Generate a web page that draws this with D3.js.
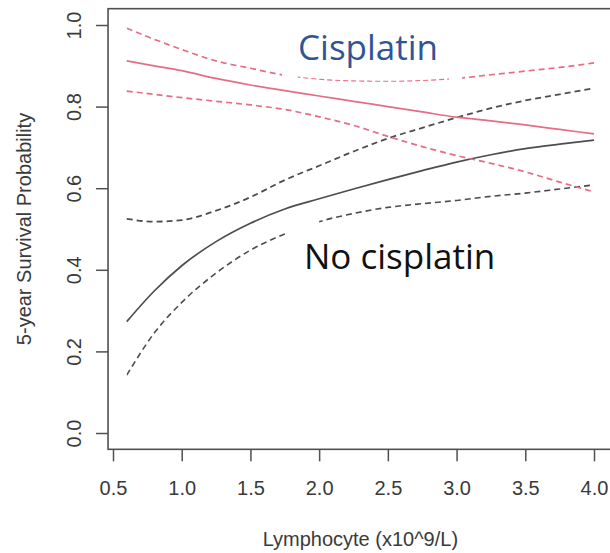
<!DOCTYPE html>
<html>
<head>
<meta charset="utf-8">
<script src="https://cdn.jsdelivr.net/npm/d3@7"></script>
<style>
  html, body { margin: 0; padding: 0; background: #ffffff; }
  svg { display: block; }
</style>
</head>
<body>
<svg id="chart" width="610" height="553"></svg>
<script>
// Lymphocyte count (x10^9/L) at which the fitted curves are evaluated
const lymph = [0.6, 0.8, 1.0, 1.25, 1.5, 1.75, 2.0, 2.25, 2.5, 2.75, 3.0, 3.25, 3.5, 3.75, 4.0];

// Cisplatin group: fitted 5-year survival and confidence band
const cisFit   = [0.912, 0.900, 0.888, 0.869, 0.853, 0.839, 0.826, 0.813, 0.800, 0.787, 0.774, 0.765, 0.755, 0.744, 0.733];
const cisUpper = [0.992, 0.965, 0.940, 0.912, 0.894, 0.877, 0.867, 0.863, 0.862, 0.864, 0.869, 0.878, 0.887, 0.896, 0.907];
const cisLower = [0.838, 0.830, 0.822, 0.813, 0.804, 0.793, 0.775, 0.754, 0.727, 0.702, 0.680, 0.661, 0.640, 0.615, 0.591];

// No-cisplatin group: fitted 5-year survival and confidence band
const noCisFit   = [0.273, 0.348, 0.410, 0.469, 0.514, 0.549, 0.574, 0.598, 0.621, 0.643, 0.664, 0.682, 0.697, 0.708, 0.718];
const noCisUpper = [0.525, 0.518, 0.522, 0.545, 0.578, 0.620, 0.655, 0.690, 0.722, 0.748, 0.773, 0.796, 0.815, 0.830, 0.845];
const noCisLower = [0.142, 0.245, 0.320, 0.392, 0.448, 0.488, 0.518, 0.538, 0.553, 0.562, 0.570, 0.580, 0.588, 0.598, 0.608];

// Stretches of the band lines hidden behind the annotation boxes (lymphocyte units)
const cisUpperHidden   = [[1.73, 1.845], [2.945, 3.04]];
const cisUpperFine     = [[1.845, 2.945]];
const noCisLowerHidden = [[1.765, 2.0]];

// Axis ticks
const xTicks = [0.5, 1.0, 1.5, 2.0, 2.5, 3.0, 3.5, 4.0];
const yTicks = [0.0, 0.2, 0.4, 0.6, 0.8, 1.0];

// Labels
const xTitle = "Lymphocyte (x10^9/L)";
const yTitle = "5-year Survival Probability";
const cisLabel = "Cisplatin";
const noCisLabel = "No cisplatin";

const RED = "#e76d83";
const GREY = "#4d4d4d";
const AXIS = "#505050";
const TEXT = "#3a3a3a";

const svg = d3.select("#chart");

const x = d3.scaleLinear().domain([0.5, 4.0]).range([113, 594]);
const y = d3.scaleLinear().domain([0, 1]).range([433, 25]);

// R-style plot region: 4% padding around the data range
const xPad = (lymph[lymph.length - 1] - lymph[0]) * 0.04;
const box = {
  x0: x(lymph[0] - xPad), x1: x(lymph[lymph.length - 1] + xPad),
  y0: y(1.04), y1: y(-0.04)
};

// Axes
const tickFont = "Liberation Sans, Arial, sans-serif";

const xAxis = d3.axisBottom(x).tickValues(xTicks).tickFormat(d3.format(".1f"))
  .tickSize(12).tickPadding(19);
const gx = svg.append("g").attr("transform", `translate(0,${box.y1})`).call(xAxis);
gx.select(".domain").remove();
gx.selectAll(".tick line").attr("stroke", AXIS).attr("stroke-width", 1.5);
gx.selectAll(".tick text").attr("fill", TEXT).style("font-family", tickFont).style("font-size", "20px");

const yAxis = d3.axisLeft(y).tickValues(yTicks).tickFormat(d3.format(".1f")).tickSize(12);
const gy = svg.append("g").attr("transform", `translate(${box.x0},0)`).call(yAxis);
gy.select(".domain").remove();
gy.selectAll(".tick line").attr("stroke", AXIS).attr("stroke-width", 1.5);
gy.selectAll(".tick text")
  .attr("fill", TEXT).style("font-family", tickFont).style("font-size", "20px")
  .attr("transform", "rotate(-90)")
  .attr("text-anchor", "middle")
  .attr("x", 0).attr("y", -27).attr("dy", null);

// Plot frame
svg.append("rect")
  .attr("x", box.x0).attr("y", box.y0)
  .attr("width", box.x1 - box.x0).attr("height", box.y1 - box.y0)
  .attr("fill", "none").attr("stroke", AXIS).attr("stroke-width", 1.6);

// Axis titles
svg.append("text")
  .attr("x", (box.x0 + box.x1) / 2).attr("y", 546)
  .attr("text-anchor", "middle").attr("fill", TEXT)
  .style("font-family", tickFont).style("font-size", "20px")
  .text(xTitle);

svg.append("text")
  .attr("transform", `translate(31,${(box.y0 + box.y1) / 2}) rotate(-90)`)
  .attr("text-anchor", "middle").attr("fill", TEXT)
  .style("font-family", tickFont).style("font-size", "20px")
  .text(yTitle);

// Helpers for partially hidden lines
function complement(intervals, lo, hi) {
  const sorted = intervals.slice().sort((a, b) => a[0] - b[0]);
  const out = [];
  let start = lo;
  sorted.forEach(([a, b]) => {
    if (a > start) out.push([start, a]);
    start = Math.max(start, b);
  });
  if (start < hi) out.push([start, hi]);
  return out;
}

const defs = svg.append("defs");
let clipCount = 0;
function makeClip(intervals) {
  const id = "clip" + (clipCount++);
  const cp = defs.append("clipPath").attr("id", id);
  cp.selectAll("rect").data(intervals).join("rect")
    .attr("x", d => x(d[0])).attr("width", d => x(d[1]) - x(d[0]))
    .attr("y", 0).attr("height", 553);
  return `url(#${id})`;
}

const line = d3.line()
  .x((d, i) => x(lymph[i]))
  .y(d => y(d))
  .curve(d3.curveMonotoneX);

const lo = lymph[0], hi = lymph[lymph.length - 1];

function drawSeries(values, opts) {
  const p = svg.append("path")
    .datum(values)
    .attr("d", line)
    .attr("fill", "none")
    .attr("stroke", opts.color)
    .attr("stroke-width", opts.width)
    .attr("stroke-linejoin", "round");
  if (opts.dash) p.attr("stroke-dasharray", opts.dash);
  if (opts.clip) p.attr("clip-path", opts.clip);
  return p;
}

// No-cisplatin curves
drawSeries(noCisUpper, { color: GREY, width: 1.8, dash: "6,4" });
drawSeries(noCisLower, { color: GREY, width: 1.6, dash: "6,4",
  clip: makeClip(complement(noCisLowerHidden, lo, hi)) });
drawSeries(noCisFit, { color: GREY, width: 1.7 });

// Cisplatin curves
drawSeries(cisUpper, { color: RED, width: 1.7, dash: "6,4",
  clip: makeClip(complement(cisUpperHidden.concat(cisUpperFine), lo, hi)) });
drawSeries(cisUpper, { color: RED, width: 1.1, dash: "5,3",
  clip: makeClip(cisUpperFine) });
drawSeries(cisLower, { color: RED, width: 1.7, dash: "6,4" });
drawSeries(cisFit, { color: RED, width: 1.7 });

// Group annotations
svg.append("text")
  .attr("x", 298).attr("y", 60)
  .attr("fill", "#2f5597")
  .style("font-family", "Open Sans, Noto Sans, sans-serif")
  .style("font-size", "35px")
  .text(cisLabel);

svg.append("text")
  .attr("x", 304).attr("y", 269)
  .attr("fill", "#111111")
  .style("font-family", "Open Sans, Noto Sans, sans-serif")
  .style("font-size", "35px")
  .text(noCisLabel);
</script>
</body>
</html>
